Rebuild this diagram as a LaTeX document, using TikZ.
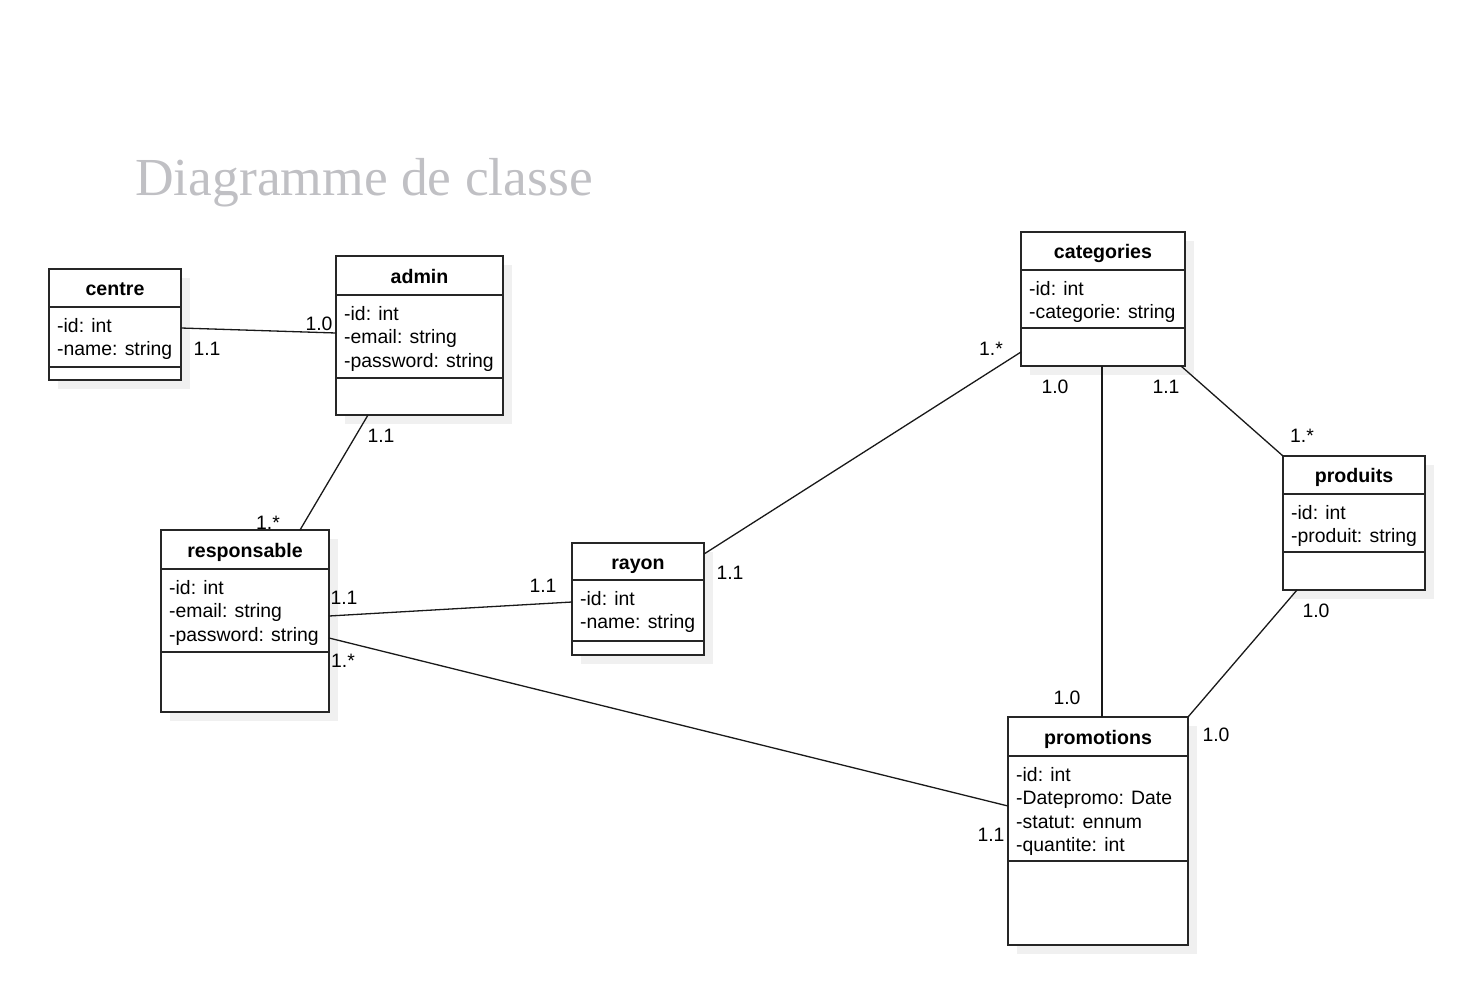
\documentclass[tikz,border=0pt]{standalone}
\usepackage{fontspec}
\setmainfont{Liberation Sans}
\newfontfamily\titlefont{Liberation Serif}
\usetikzlibrary{calc}
\definecolor{titlegray}{RGB}{192,192,196}
\definecolor{shadowgray}{RGB}{240,240,240}
\tikzset{
 box/.style={draw=black!85, line width=1.6pt, fill=white, inner sep=0pt, outer sep=0pt, anchor=north west},
 sepline/.style={line width=1.6pt, draw=black!85},
 shadowbox/.style={fill=shadowgray, draw=none},
 conn/.style={line width=1.3pt, draw=black!90},
 mult/.style={font=\fontsize{19.4}{23}\selectfont, inner sep=0pt},
 clsname/.style={font=\fontsize{19.6}{23}\selectfont\bfseries, inner sep=0pt, anchor=base},
 attr/.style={font=\fontsize{19.4}{23}\selectfont, inner sep=0pt, anchor=base west},
}
\newcommand\umlclass[9]{%
  \pgfmathsetmacro\uw{#4-#2}\pgfmathsetmacro\uh{#5-#3}%
  \fill[shadowbox] (#2+9,#3+9) rectangle (#4+9,#5+9);
  \node[box, minimum width=\uw pt, minimum height=\uh pt] (#1) at (#2,#3) {};
  \draw[sepline] (#2,#6) -- (#4,#6);
  \draw[sepline] (#2,#7) -- (#4,#7);
  \node[clsname] (#1-name) at ({(#2+#4)/2},{(#3+#6)/2+7.5}) {#8};
  \foreach \t [count=\i] in {#9} {\node[attr] (#1-a\i) at (#2+8,{#6+25+(\i-1)*23.5}) {\t};}
}
\begin{document}
\begin{tikzpicture}[x=1pt,y=-1pt]
\useasboundingbox (0,0) rectangle (1479,1006);
\node[font=\titlefont\fontsize{53.5}{60}\selectfont, text=titlegray, anchor=base west, inner sep=0pt] (title) at (135,195) {Diagramme de classe};

\umlclass{centre}{49}{269}{181}{380}{307}{367}{centre}{-id: int,-name: string}
\umlclass{admin}{336}{256}{503}{415}{295}{378}{admin}{-id: int,-email: string,-password: string}
\umlclass{responsable}{161}{530}{329}{712}{569}{652}{responsable}{-id: int,-email: string,-password: string}
\umlclass{rayon}{572}{543}{704}{655}{580}{641}{rayon}{-id: int,-name: string}
\umlclass{categories}{1021}{232}{1185}{366}{270}{328}{categories}{-id: int,-categorie: string}
\umlclass{produits}{1283}{456}{1425}{590}{494}{552}{produits}{-id: int,-produit: string}
\umlclass{promotions}{1008}{717}{1188}{945}{756}{861}{promotions}{-id: int,-Datepromo: Date,-statut: ennum,-quantite: int}

\draw[conn] (centre.east |- 0,328) -- (admin.west |- 0,333);
\draw[conn] (admin.south -| 368,0) -- (responsable.north -| 300,0);
\draw[conn] (responsable.east |- 0,616) -- (rayon.west |- 0,602);
\draw[conn] (responsable.east |- 0,638) -- (promotions.west |- 0,806);
\draw[conn] (rayon.east |- 0,554) -- (categories.west |- 0,352);
\draw[conn] (categories.south -| 1102,0) -- (promotions.north -| 1102,0);
\draw[conn] (categories.south -| 1181,0) -- (produits.north west);
\draw[conn] (produits.south -| 1297,0) -- (promotions.north east);

\node[mult] (m1) at (207,349) {1.1};
\node[mult] (m2) at (319,324) {1.0};
\node[mult] (m3) at (381,436) {1.1};
\node[mult] (m4) at (268,523) {1.*};
\node[mult] (m5) at (344,598) {1.1};
\node[mult] (m6) at (543,586) {1.1};
\node[mult] (m7) at (343,661) {1.*};
\node[mult] (m8) at (730,573) {1.1};
\node[mult] (m9) at (991,349) {1.*};
\node[mult] (m10) at (1055,387) {1.0};
\node[mult] (m11) at (1166,387) {1.1};
\node[mult] (m12) at (1302,436) {1.*};
\node[mult] (m13) at (1316,611) {1.0};
\node[mult] (m14) at (1067,698) {1.0};
\node[mult] (m15) at (1216,735) {1.0};
\node[mult] (m16) at (991,835) {1.1};
\end{tikzpicture}
\end{document}
